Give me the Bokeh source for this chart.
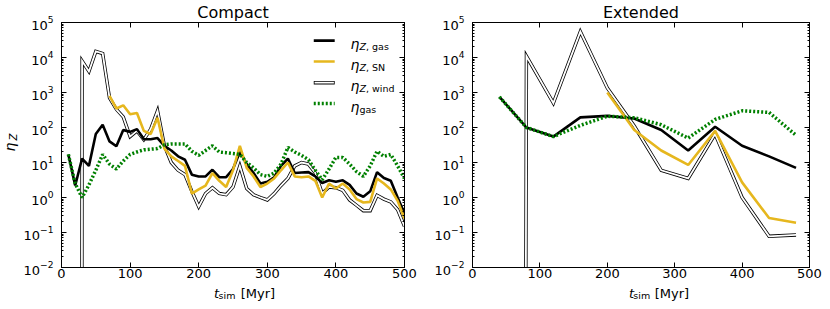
import math
from bokeh.plotting import figure
from bokeh.layouts import row, column
from bokeh.models import ColumnDataSource, FixedTicker, LinearAxis, LogAxis, Label, Range1d, Title
from bokeh.core.properties import value
from bokeh.embed import file_html
from bokeh.resources import INLINE

nan = float("nan")
ZERO = 1e-300  # a zero value (drawn as matplotlib does on a log axis)

# ---------------- data: Compact ----------------
t_compact = [10, 20, 30, 40, 50, 60, 70, 80, 90, 100,
             110, 120, 130, 140, 150, 160, 170, 180, 190, 200,
             210, 220, 230, 240, 250, 260, 270, 280, 290, 300,
             310, 320, 330, 340, 350, 360, 370, 380, 390, 400,
             410, 420, 430, 440, 450, 460, 470, 480, 490, 500]
eta_z_gas_compact = [17, 2.2, 13, 8, 65, 120, 40, 29, 85, 75,
                     90, 46, 46, 50, 30, 22, 15, 12, 4.5, 4.0,
                     4.0, 6.2, 3.8, 3.8, 6.5, 20, 9, 5, 2.5, 2.8,
                     3.8, 8, 13, 5, 5.2, 5.3, 4, 2.6, 3.1, 2.8,
                     3.1, 2.3, 1.3, 1.05, 1.5, 5.3, 3.6, 3.0, 1.0, 0.35]
eta_z_sn_compact = [nan, nan, nan, nan, nan, nan, 800, 350, 430, 240,
                    260, 80, 65, 190, 25, 15, 11, 8, 1.3, 1.7,
                    2.2, 5, 3, 2.0, 6, 30, 7, 4, 2.0, 2.5,
                    3.5, 6, 10, 4, 3.8, 4, 3, 1.0, 2.5, 1.8,
                    2.5, 1.7, 0.9, 0.72, 0.75, 3.5, 2.5, 1.7, 0.8, 0.25]
eta_z_wind_compact = [nan, ZERO, 8000, 4000, 15000, 13000, 700, 330, 200, 55,
                      80, 45, 90, 300, 30, 10, 6, 4.5, 1.5, 0.55,
                      1.3, 1.9, 1.3, 1.2, 2.0, 8, 1.8, 1.2, 1.0, 0.85,
                      1.3, 2.2, 3.5, 8, 10, 9, 5, 1.3, 2.0, 1.9,
                      1.6, 0.85, 0.6, 0.42, 0.42, 1.15, 0.9, 0.75, 0.45, 0.15]
eta_gas_compact = [17, 2.5, 1.0, 2.3, 6, 17, 9, 6.5, 11, 17,
                   20, 23, 24, 25, 32, 34, 34, 34, 21, 16,
                   22, 30, 20, 19, 18, 17, 10, 7, 4.5, 4,
                   5, 9, 27, 20, 16, 12, 6, 3.2, 6.5, 14,
                   14, 9, 5.5, 4, 8, 21, 15, 17, 8, 3.5]

# ---------------- data: Extended ----------------
t_extended = [40, 80, 120, 160, 200, 240, 280, 320, 360, 400, 440, 480]
eta_z_gas_extended = [750, 100, 55, 195, 215, 180, 85, 22, 105, 30, 15, 7]
eta_z_sn_extended = [nan, nan, nan, nan, 1000, 85, 22, 8.5, 80, 2.7, 0.26, 0.19]
eta_z_wind_extended = [ZERO, 11000, 500, 55000, 1350, 110, 6, 3.5, 65, 1.0, 0.078, 0.085]
eta_gas_extended = [750, 100, 55, 115, 210, 190, 120, 50, 170, 300, 270, 60]

# ---------------- ticks & texts ----------------
x_ticks = [0, 100, 200, 300, 400, 500]
y_ticks = [1e-2, 1e-1, 1e0, 1e1, 1e2, 1e3, 1e4, 1e5]
y_minor = [m * d for d in y_ticks[:-1] for m in range(2, 10)]

panel_titles = ["Compact", "Extended"]
legend_labels = [("η", "Z", ", gas"), ("η", "Z", ", SN"), ("η", "Z", ", wind"), ("η", "", "gas")]

# ---------------- style / layout ----------------
FONT = "DejaVu Sans"
BLACK = "#000000"
GOLD = "#E6B71E"
GREEN = "#008000"
PLOT_H = 284
BORDER_B = 17
XLAB_H = 17
YLAB_W = 20
FRAME_H = 247
XMAX = 500.0
LOGMIN, LOGMAX = -2.0, 5.0


def style_axis(ax, labels=True):
    ax.major_tick_in = 5
    ax.major_tick_out = 0
    ax.minor_tick_in = 2
    ax.minor_tick_out = 0
    ax.major_tick_line_color = BLACK
    ax.minor_tick_line_color = BLACK
    ax.axis_line_color = BLACK
    if labels:
        ax.major_label_text_font = FONT
        ax.major_label_text_font_size = "13px"
        ax.major_label_text_color = BLACK
    else:
        ax.major_label_text_font_size = "0px"
        ax.major_label_text_color = None
        ax.major_label_standoff = 0


def text_fig(w, h):
    f = figure(width=w, height=h, x_range=Range1d(0, w), y_range=Range1d(h, 0),
               output_backend="svg", toolbar_location=None,
               x_axis_type=None, y_axis_type=None,
               min_border_left=0, min_border_right=0, min_border_top=0, min_border_bottom=0)
    f.outline_line_color = None
    f.background_fill_color = "white"
    f.border_fill_color = "white"
    return f


def put(f, txt, x, y, size, italic=False, align="left", angle=0.0):
    # (x, y) is the left end / vertical middle of the text line
    f.text(x=[x], y=[y], text=[txt], text_font=value(FONT), text_font_size=value(size),
           text_font_style=value("italic" if italic else "normal"),
           text_align=value(align), text_baseline=value("middle"),
           text_color=BLACK, angle=angle)


def add_label(p, text, dx, dy, size, italic=False):
    p.add_layout(Label(x=0, y=1e5, x_offset=dx, y_offset=dy, text=text,
                       text_font=FONT, text_font_size=size,
                       text_font_style="italic" if italic else "normal",
                       text_align="left", text_baseline="alphabetic", text_color=BLACK))


def make_panel(title, width, bl, br, fw, t, gas, sn, wind, etagas, legend=False):
    p = figure(width=width, height=PLOT_H, x_range=Range1d(0, XMAX), y_range=Range1d(1e-2, 1e5),
               y_axis_type="log", output_backend="svg", toolbar_location=None,
               title=Title(text=title, align="center", text_font=FONT, text_font_size="16px",
                           text_font_style="normal", text_color=BLACK, standoff=1),
               min_border_left=bl, min_border_right=br, min_border_top=1,
               min_border_bottom=BORDER_B)
    p.xgrid.visible = False
    p.ygrid.visible = False
    p.outline_line_color = BLACK
    p.outline_line_width = 1
    p.background_fill_color = "white"
    p.border_fill_color = "white"

    xa = p.xaxis[0]
    xa.ticker = FixedTicker(ticks=x_ticks, minor_ticks=[])
    style_axis(xa)
    xa.major_label_standoff = 1
    ya = p.yaxis[0]
    ya.ticker = FixedTicker(ticks=y_ticks, minor_ticks=y_minor)
    style_axis(ya)
    ya.major_label_standoff = 8

    top = LinearAxis(ticker=FixedTicker(ticks=x_ticks, minor_ticks=[]))
    style_axis(top, labels=False)
    p.add_layout(top, "above")
    right = LogAxis(ticker=FixedTicker(ticks=y_ticks, minor_ticks=y_minor))
    style_axis(right, labels=False)
    p.add_layout(right, "right")

    src = ColumnDataSource(dict(t=t, gas=gas, sn=sn, wind=wind, etagas=etagas))
    p.line("t", "wind", source=src, line_color=BLACK, line_width=3.4, line_join="miter")
    p.line("t", "wind", source=src, line_color="white", line_width=1.8, line_join="miter")
    p.line("t", "gas", source=src, line_color=BLACK, line_width=2.6)
    p.line("t", "sn", source=src, line_color=GOLD, line_width=2.6)
    p.line("t", "etagas", source=src, line_color=GREEN, line_width=3.5, line_dash="2 2")

    if legend:
        def dx_(px):
            return px / fw * XMAX

        def dy_(py):
            return 10 ** (LOGMAX - py / FRAME_H * (LOGMAX - LOGMIN))

        rows = [18.3, 39.3, 60.7, 81.7]
        x0, x1 = 253, 274
        for i, dy in enumerate(rows):
            yy = [dy_(dy), dy_(dy)]
            xx = [dx_(x0), dx_(x1)]
            if i == 0:
                p.line(xx, yy, line_color=BLACK, line_width=2.6)
            elif i == 1:
                p.line(xx, yy, line_color=GOLD, line_width=2.6)
            elif i == 2:
                p.line(xx, yy, line_color=BLACK, line_width=3.4)
                p.line([dx_(x0 + 0.8), dx_(x1 - 0.8)], yy, line_color="white", line_width=1.8)
            else:
                p.line(xx, yy, line_color=GREEN, line_width=3.5, line_dash="2 2")
            eta, sub_i, sub_r = legend_labels[i]
            add_label(p, eta, 289, -(dy + 3), "14px", italic=True)
            sx = 298
            if sub_i:
                add_label(p, sub_i, sx, -(dy + 5.5), "9.5px", italic=True)
                sx += 6.5
            add_label(p, sub_r, sx, -(dy + 5.5), "9.5px")
    return p


def make_column(title, bl, fw, br, t, gas, sn, wind, etagas, legend=False):
    width = bl + fw + br
    cx = bl + fw / 2
    p = make_panel(title, width, bl, br, fw, t, gas, sn, wind, etagas, legend=legend)
    xf = text_fig(width, XLAB_H)
    put(xf, "t", cx - 35, 8.5, "13px", italic=True)
    put(xf, "sim", cx - 29.7, 10.7, "9.5px")
    put(xf, "[Myr]", cx - 4, 8.5, "13px")
    return column(p, xf)


# y-axis label (rotated): eta with subscript Z
yl = text_fig(YLAB_W, PLOT_H + XLAB_H)
put(yl, "η", 9.2, 151, "14px", italic=True, angle=math.pi / 2)
put(yl, "Z", 13, 140, "10px", italic=True, angle=math.pi / 2)

c1 = make_column(panel_titles[0], 40, 344, 14, t_compact, eta_z_gas_compact, eta_z_sn_compact,
                 eta_z_wind_compact, eta_gas_compact, legend=True)
c2 = make_column(panel_titles[1], 54, 337, 13, t_extended, eta_z_gas_extended, eta_z_sn_extended,
                 eta_z_wind_extended, eta_gas_extended)

layout = row(yl, c1, c2)
open("out.html", "w").write(file_html(layout, INLINE))
